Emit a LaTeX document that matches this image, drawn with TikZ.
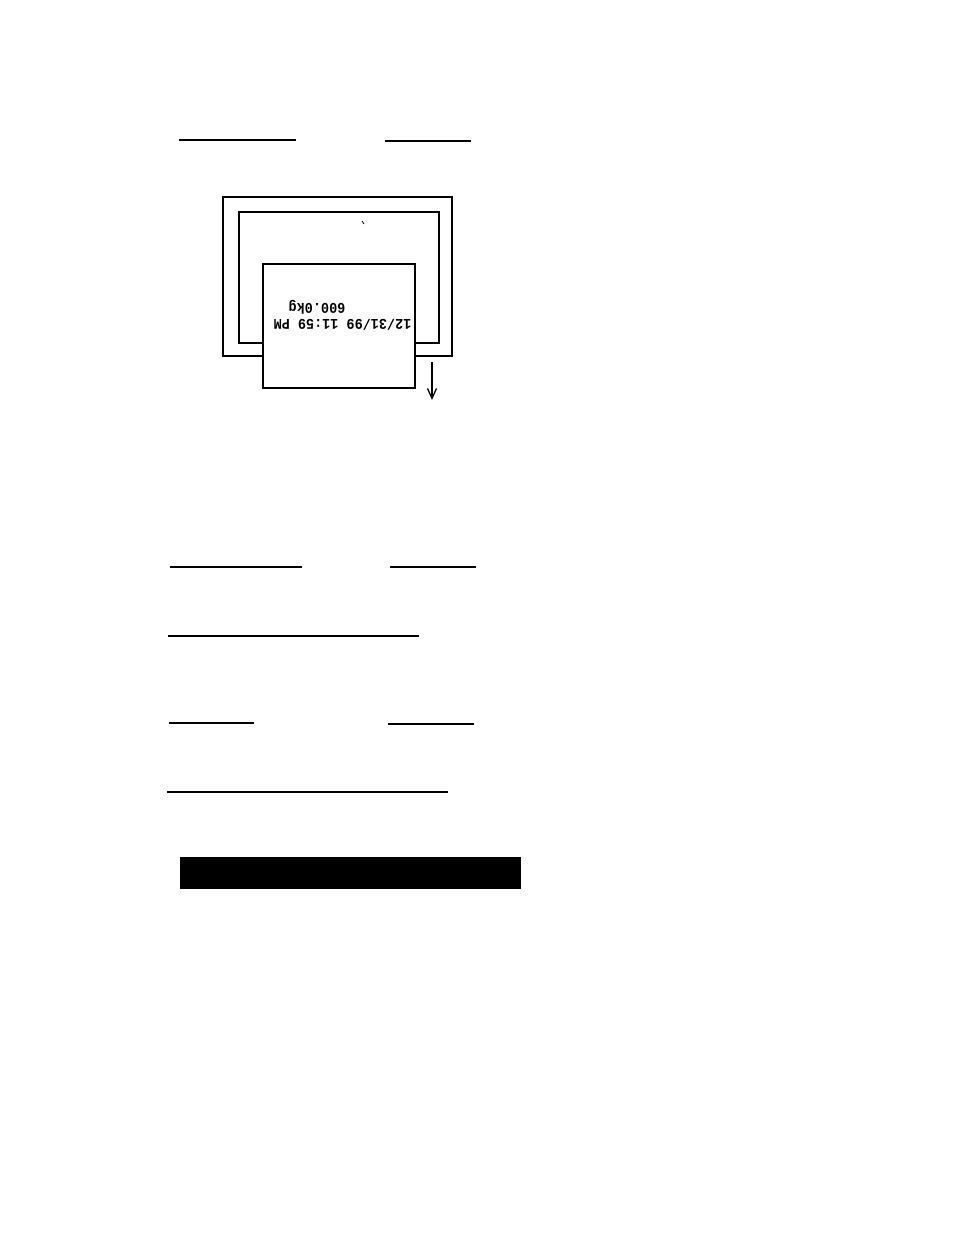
\documentclass[tikz,border=0pt]{standalone}
\usepackage{fontspec}
\newfontfamily\printfont{Liberation Mono}
\usetikzlibrary{arrows.meta}
\begin{document}
\begin{tikzpicture}[x=1pt,y=-1pt,
  rule/.style={line width=1.4pt},
  frame/.style={line width=1.6pt},
  paper/.style={draw,line width=1.3pt,fill=white},
  printed/.style={font=\printfont\bfseries\fontsize{13.5}{14}\selectfont,rotate=180,inner sep=0pt,yscale=1.1}]
\useasboundingbox (0,0) rectangle (954,1235);
% underlines (blank fields)
\draw[rule] (179,140) -- (296,140);
\draw[rule] (385,141) -- (471,141);
\draw[rule] (170,567) -- (302,567);
\draw[rule] (390,567) -- (476,567);
\draw[rule] (168,636) -- (419,636);
\draw[rule] (169,723) -- (254,723);
\draw[rule] (388,724) -- (474,724);
\draw[rule] (167,792) -- (448,792);
% black bar
\fill (180,857) rectangle (521,889);
% display frames
\draw[frame] (263,356) -- (223,356) -- (223,197) -- (452,197) -- (452,356) -- (415,356);
\draw[frame] (263,343) -- (239,343) -- (239,212) -- (439,212) -- (439,343) -- (415,343);
\draw[line width=0.8pt] (362,221) -- (364,224);
% printout
\draw[paper] (263,264) rectangle (415,388);
\node[printed] (date) at (342.5,324.5) {12/31/99 11:59 PM};
\node[printed] (weight) at (317,307) {600.0kg};
% arrow
\coordinate (a1) at (432,362);
\coordinate (a2) at (432,400);
\draw[line width=1.3pt,-{Straight Barb[length=10pt,width=9pt]}] (a1) -- (a2);
\end{tikzpicture}
\end{document}
